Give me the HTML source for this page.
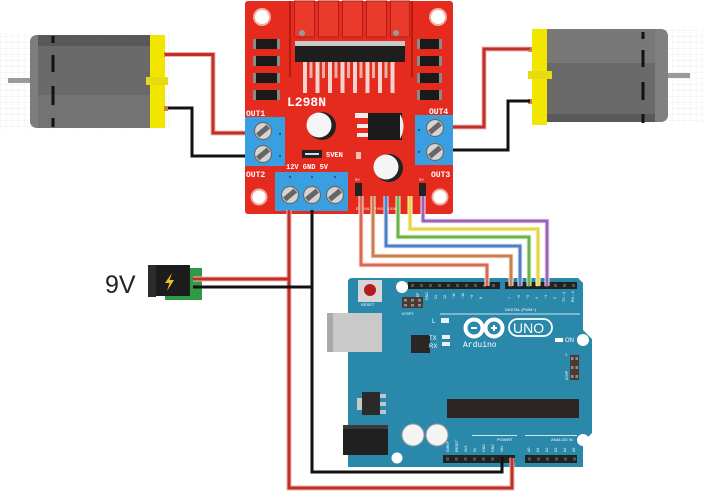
<!DOCTYPE html>
<html><head><meta charset="utf-8"><style>
html,body{margin:0;padding:0;background:#fff;}
svg{display:block;}
text{font-family:"Liberation Sans",sans-serif;}
.m{font-family:"Liberation Mono",monospace;font-weight:bold;}
</style></head><body>
<svg width="703" height="496" viewBox="0 0 703 496" xmlns="http://www.w3.org/2000/svg">
<defs>
<pattern id="g" width="6" height="6" patternUnits="userSpaceOnUse"><path d="M6 0H0V6" fill="none" stroke="#e8e8e8" stroke-width="0.7"/></pattern>
<g id="scr"><circle r="8.5" fill="#d4d4d4" stroke="#6a6a6a" stroke-width="1.2"/><rect x="-7" y="-2.6" width="14" height="5.2" fill="#666" transform="rotate(-40)"/></g>
</defs>
<rect width="703" height="496" fill="#fff"/>
<rect x="0" y="33" width="170" height="97" fill="url(#g)"/>
<rect x="600" y="28" width="103" height="96" fill="url(#g)"/>

<!-- left motor -->
<rect x="8" y="78" width="26" height="5" fill="#9a9a9a"/>
<path d="M38,35 H151 V128 H38 Q30,128 30,120 V43 Q30,35 38,35Z" fill="#6a6a6a"/>
<rect x="38" y="35" width="113" height="11" fill="#585858"/>
<rect x="38" y="95" width="113" height="33" fill="#737373"/>
<path d="M30,43 Q30,35 38,35 V128 Q30,128 30,120Z" fill="#7d7d7d"/>
<g fill="#111"><rect x="51.5" y="36" width="3" height="7"/><rect x="51.5" y="55" width="3" height="17"/><rect x="51.5" y="86" width="3" height="19"/><rect x="51.5" y="118" width="3" height="9"/></g>
<rect x="150" y="35" width="15" height="93" fill="#f2e600"/>
<rect x="146" y="77" width="22" height="8" fill="#e6da10"/>
<rect x="164" y="52" width="4" height="5" fill="#d08040"/><rect x="164" y="106" width="4" height="5" fill="#d08040"/>

<!-- right motor -->
<rect x="664" y="73" width="26" height="5" fill="#9a9a9a"/>
<path d="M547,29 H660 Q668,29 668,37 V114 Q668,122 660,122 H547Z" fill="#6a6a6a"/>
<rect x="547" y="29" width="113" height="34" fill="#787878"/>
<rect x="547" y="114" width="113" height="8" fill="#595959"/>
<path d="M655,29 H660 Q668,29 668,37 V114 Q668,122 660,122 H655Z" fill="#808080"/>
<g fill="#111"><rect x="641.5" y="32" width="3" height="7"/><rect x="641.5" y="50" width="3" height="17"/><rect x="641.5" y="82" width="3" height="18"/><rect x="641.5" y="114" width="3" height="9"/></g>
<rect x="532" y="29" width="15" height="96" fill="#f2e600"/>
<rect x="528" y="71" width="24" height="8" fill="#e6da10"/>
<rect x="528" y="47" width="4" height="5" fill="#d08040"/><rect x="528" y="99" width="4" height="5" fill="#d08040"/>

<!-- motor wires -->
<g fill="none" stroke-linejoin="miter">
<path d="M165,54.5 H213 V133 H255" stroke="#f3b3ad" stroke-width="5"/>
<path d="M165,54.5 H213 V133 H255" stroke="#c0302a" stroke-width="3"/>
<path d="M168,108 H192 V156 H255" stroke="#111" stroke-width="3"/>
<path d="M530,49 H484 V127 H445" stroke="#f3b3ad" stroke-width="5"/>
<path d="M530,49 H484 V127 H445" stroke="#c0302a" stroke-width="3"/>
<path d="M530,101 H508 V150 H445" stroke="#111" stroke-width="3"/>
</g>

<!-- L298N board -->
<rect x="245" y="1" width="208" height="213" rx="3" fill="#e52a1e"/>
<rect x="289" y="1" width="2" height="76" fill="#b81a12"/>
<rect x="411" y="1" width="2" height="76" fill="#b81a12"/>
<g fill="#ea3a2b" stroke="#b0201a" stroke-width="1">
<rect x="294.5" y="1" width="20" height="36"/><rect x="318.5" y="1" width="20" height="36"/><rect x="342.5" y="1" width="20" height="36"/><rect x="366.5" y="1" width="20" height="36"/><rect x="390.5" y="1" width="19" height="36"/>
</g>
<circle cx="302" cy="33" r="3" fill="#9a9a9a"/><circle cx="396" cy="33" r="3" fill="#9a9a9a"/>
<rect x="295" y="41" width="110" height="5" fill="#c8c8c8"/>
<rect x="295" y="46" width="110" height="16" fill="#1e1e1e"/>
<g fill="#f3d3cf">
<rect x="303" y="62" width="4" height="31"/><rect x="315.5" y="62" width="4" height="31"/><rect x="328" y="62" width="4" height="31"/><rect x="340.5" y="62" width="4" height="31"/><rect x="353" y="62" width="4" height="31"/><rect x="365.5" y="62" width="4" height="31"/><rect x="378" y="62" width="4" height="31"/><rect x="390.5" y="62" width="4" height="31"/>
</g>
<g fill="#e9b0a8">
<rect x="309.5" y="62" width="3" height="16"/><rect x="322" y="62" width="3" height="16"/><rect x="334.5" y="62" width="3" height="16"/><rect x="347" y="62" width="3" height="16"/><rect x="359.5" y="62" width="3" height="16"/><rect x="372" y="62" width="3" height="16"/><rect x="384.5" y="62" width="3" height="16"/>
</g>
<!-- smd -->
<g fill="#1a1a1a">
<rect x="253" y="39" width="27" height="10"/><rect x="253" y="56" width="27" height="10"/><rect x="253" y="73" width="27" height="10"/><rect x="253" y="90" width="27" height="10"/>
<rect x="417" y="39" width="25" height="10"/><rect x="417" y="56" width="25" height="10"/><rect x="417" y="73" width="25" height="10"/><rect x="417" y="90" width="25" height="10"/>
</g>
<g fill="#8a8a8a">
<rect x="253" y="39" width="3" height="10"/><rect x="253" y="56" width="3" height="10"/><rect x="253" y="73" width="3" height="10"/><rect x="253" y="90" width="3" height="10"/>
<rect x="277" y="39" width="3" height="10"/><rect x="277" y="56" width="3" height="10"/><rect x="277" y="73" width="3" height="10"/><rect x="277" y="90" width="3" height="10"/>
<rect x="417" y="39" width="3" height="10"/><rect x="417" y="56" width="3" height="10"/><rect x="417" y="73" width="3" height="10"/><rect x="417" y="90" width="3" height="10"/>
<rect x="439" y="39" width="3" height="10"/><rect x="439" y="56" width="3" height="10"/><rect x="439" y="73" width="3" height="10"/><rect x="439" y="90" width="3" height="10"/>
</g>
<g fill="#fff" stroke="#f5aaa2" stroke-width="2">
<circle cx="262" cy="17" r="8"/><circle cx="438" cy="17" r="8"/><circle cx="259" cy="197" r="7.5"/><circle cx="440" cy="197" r="7.5"/>
</g>
<text x="287" y="106" class="m" font-size="13" fill="#fff">L298N</text>
<text x="246" y="116" class="m" font-size="8" fill="#fff">OUT1</text>
<text x="246" y="177" class="m" font-size="8" fill="#fff">OUT2</text>
<text x="429" y="114" class="m" font-size="8" fill="#fff">OUT4</text>
<text x="431" y="177" class="m" font-size="8" fill="#fff">OUT3</text>
<text x="286" y="169" class="m" font-size="7" fill="#fff">12V GND  5V</text>
<text x="326" y="157" class="m" font-size="7" fill="#fff">5VEN</text>
<!-- caps & regulator -->
<circle cx="322" cy="126" r="14" fill="#222"/><circle cx="319" cy="125" r="12.5" fill="#f5f5f5"/>
<rect x="368" y="113" width="34" height="27" fill="#1a1a1a"/>
<path d="M400,114 Q407,126 400,139Z" fill="#eee"/>
<rect x="355" y="113" width="13" height="5" fill="#eee"/><rect x="357" y="124" width="11" height="4" fill="#eee"/><rect x="357" y="133" width="11" height="4" fill="#eee"/>
<circle cx="389" cy="168" r="14" fill="#222"/><circle cx="386" cy="167" r="12.5" fill="#f5f5f5"/>
<rect x="302" y="150" width="20" height="8" fill="#222"/><rect x="305" y="153" width="14" height="2" fill="#ddd"/>
<rect x="356" y="152" width="5" height="7" fill="#f3c0b8"/>
<!-- terminal blocks -->
<rect x="245" y="117" width="40" height="49" fill="#3a9fe0"/>
<rect x="415" y="115" width="38" height="50" fill="#3a9fe0"/>
<rect x="275" y="172" width="73" height="39" fill="#3a9fe0"/>
<use href="#scr" x="263" y="131"/><use href="#scr" x="263" y="154"/>
<use href="#scr" x="435" y="128"/><use href="#scr" x="435" y="152"/>
<use href="#scr" x="290" y="195"/><use href="#scr" x="312" y="195"/><use href="#scr" x="335" y="195"/>
<g fill="#1f5f90"><circle cx="280" cy="134" r="1.2"/><circle cx="280" cy="156" r="1.2"/><circle cx="419" cy="130" r="1.2"/><circle cx="419" cy="152" r="1.2"/><circle cx="290" cy="177" r="1.2"/><circle cx="312" cy="177" r="1.2"/><circle cx="335" cy="177" r="1.2"/></g>
<!-- header -->
<rect x="355" y="183" width="7" height="13" fill="#222"/><rect x="419" y="183" width="7" height="13" fill="#222"/>
<text x="355" y="181" font-size="4" fill="#fff">5V</text><text x="419" y="181" font-size="4" fill="#fff">5V</text>
<text x="356" y="210" font-size="3.6" fill="#fff">ENA IN1 IN2 IN3 IN4 ENB</text>

<!-- Arduino -->
<path d="M352,278 H578 L583,283 V330 L592,339 V433 L583,442 V467 H348 V282 Q348,278 352,278Z" fill="#2a88ab"/>
<rect x="327" y="313" width="55" height="39" fill="#c9c9c9"/>
<rect x="327" y="313" width="6" height="39" fill="#a9a9a9"/>
<rect x="358" y="280" width="24" height="22" fill="#d6d6d6"/>
<circle cx="370" cy="290" r="6" fill="#b31d1d"/>
<text x="361" y="306" font-size="4" fill="#fff">RESET</text>
<circle cx="402" cy="287" r="6" fill="#fff"/>
<rect x="408" y="282" width="92" height="7" fill="#222"/>
<rect x="505" y="282" width="72" height="7" fill="#222"/>
<g fill="#fff" font-size="3.6">
<text x="419" y="302" transform="rotate(-90 419 302)">AREF</text>
<text x="428" y="300" transform="rotate(-90 428 300)">GND</text>
<text x="437" y="299" transform="rotate(-90 437 299)">13</text>
<text x="446" y="299" transform="rotate(-90 446 299)">12</text>
<text x="455" y="299" transform="rotate(-90 455 299)">~11</text>
<text x="464" y="299" transform="rotate(-90 464 299)">~10</text>
<text x="473" y="299" transform="rotate(-90 473 299)">~9</text>
<text x="482" y="299" transform="rotate(-90 482 299)">8</text>
<text x="511" y="299" transform="rotate(-90 511 299)">7</text>
<text x="520" y="299" transform="rotate(-90 520 299)">~6</text>
<text x="529" y="299" transform="rotate(-90 529 299)">~5</text>
<text x="538" y="299" transform="rotate(-90 538 299)">4</text>
<text x="547" y="299" transform="rotate(-90 547 299)">~3</text>
<text x="556" y="299" transform="rotate(-90 556 299)">2</text>
<text x="565" y="302" transform="rotate(-90 565 302)">TX→1</text>
<text x="574" y="302" transform="rotate(-90 574 302)">RX←0</text>
</g>
<rect x="402" y="297" width="21" height="11" fill="#4a3a36"/>
<g fill="#9a8a86"><rect x="404" y="299" width="3" height="2.5"/><rect x="411" y="299" width="3" height="2.5"/><rect x="418" y="299" width="3" height="2.5"/><rect x="404" y="304" width="3" height="2.5"/><rect x="411" y="304" width="3" height="2.5"/><rect x="418" y="304" width="3" height="2.5"/></g>
<text x="402" y="315" font-size="4" fill="#fff">ICSP2</text>
<rect x="440" y="313.5" width="140" height="1" fill="#cfe6ef"/>
<text x="505" y="311" font-size="4" fill="#fff">DIGITAL (PWM~)</text>
<rect x="411" y="335" width="19" height="18" fill="#2a2626"/>
<text x="432" y="323" font-size="6" fill="#fff">L</text>
<rect x="441" y="318" width="8" height="5" fill="#e8f2f6"/>
<text x="429" y="340" font-size="6" fill="#fff">TX</text>
<text x="429" y="348" font-size="6" fill="#fff">RX</text>
<rect x="442" y="335" width="8" height="4" fill="#e8f2f6"/><rect x="442" y="342" width="8" height="4" fill="#e8f2f6"/>
<circle cx="474" cy="328" r="8.5" fill="none" stroke="#fff" stroke-width="4"/>
<circle cx="494" cy="328" r="8.5" fill="none" stroke="#fff" stroke-width="4"/>
<rect x="471" y="327" width="6" height="2" fill="#fff"/>
<rect x="491" y="327" width="6" height="2" fill="#fff"/><rect x="493" y="325" width="2" height="6" fill="#fff"/>
<rect x="509" y="319" width="43" height="17" rx="8.5" fill="none" stroke="#fff" stroke-width="1.8"/>
<text x="513" y="333" font-size="14" fill="#fff">UNO</text>
<text x="463" y="347" font-size="8" fill="#fff" class="m" style="font-weight:normal">Arduino</text>
<rect x="555" y="338" width="8" height="4" fill="#fff"/>
<text x="565" y="342" font-size="6" fill="#fff">ON</text>
<circle cx="583" cy="340" r="6" fill="#fff"/>
<text x="565" y="356" font-size="4" fill="#fff">1</text>
<rect x="570" y="355" width="9" height="25" fill="#4a3a36"/>
<g fill="#9a8a86"><rect x="571" y="357" width="2.5" height="3"/><rect x="575.5" y="357" width="2.5" height="3"/><rect x="571" y="366" width="2.5" height="3"/><rect x="575.5" y="366" width="2.5" height="3"/><rect x="571" y="375" width="2.5" height="3"/><rect x="575.5" y="375" width="2.5" height="3"/></g>
<text x="568" y="380" font-size="4" fill="#fff" transform="rotate(-90 568 380)">ICSP</text>
<rect x="362" y="392" width="18" height="23" fill="#2a2a2a"/>
<rect x="357" y="398" width="5" height="12" fill="#c8c8c8"/>
<g fill="#b8c8cc"><rect x="380" y="394" width="6" height="4"/><rect x="380" y="402" width="6" height="4"/><rect x="380" y="410" width="6" height="4"/></g>
<rect x="447" y="399" width="132" height="19" fill="#2d2424"/>
<rect x="343" y="425" width="45" height="30" fill="#202020"/>
<rect x="343" y="425" width="45" height="4" fill="#3a3a3a"/>
<circle cx="413" cy="435" r="11" fill="#f4f4f4" stroke="#9a9a9a" stroke-width="1"/>
<circle cx="437" cy="435" r="11" fill="#f4f4f4" stroke="#9a9a9a" stroke-width="1"/>
<circle cx="397" cy="458" r="5.5" fill="#fff"/>
<circle cx="583" cy="440" r="6" fill="#fff"/>
<rect x="472" y="435" width="45" height="1" fill="#cfe6ef"/>
<rect x="525" y="435" width="52" height="1" fill="#cfe6ef"/>
<text x="497" y="441" font-size="4" fill="#fff">POWER</text>
<text x="551" y="441" font-size="4" fill="#fff">ANALOG IN</text>
<g fill="#fff" font-size="3.6">
<text x="449" y="452" transform="rotate(-90 449 452)">IOREF</text>
<text x="458" y="452" transform="rotate(-90 458 452)">RESET</text>
<text x="467" y="452" transform="rotate(-90 467 452)">3V3</text>
<text x="476" y="452" transform="rotate(-90 476 452)">5V</text>
<text x="485" y="452" transform="rotate(-90 485 452)">GND</text>
<text x="494" y="452" transform="rotate(-90 494 452)">GND</text>
<text x="503" y="452" transform="rotate(-90 503 452)">VIN</text>
<text x="530" y="452" transform="rotate(-90 530 452)">A0</text>
<text x="539" y="452" transform="rotate(-90 539 452)">A1</text>
<text x="548" y="452" transform="rotate(-90 548 452)">A2</text>
<text x="557" y="452" transform="rotate(-90 557 452)">A3</text>
<text x="566" y="452" transform="rotate(-90 566 452)">A4</text>
<text x="575" y="452" transform="rotate(-90 575 452)">A5</text>
</g>
<rect x="443" y="455" width="72" height="8" fill="#222"/>
<rect x="525" y="455" width="52" height="8" fill="#222"/>
<g fill="#555">
<rect x="446" y="457.5" width="3" height="3"/><rect x="455" y="457.5" width="3" height="3"/><rect x="464" y="457.5" width="3" height="3"/><rect x="473" y="457.5" width="3" height="3"/><rect x="482" y="457.5" width="3" height="3"/><rect x="491" y="457.5" width="3" height="3"/><rect x="500" y="457.5" width="3" height="3"/><rect x="509" y="457.5" width="3" height="3"/>
<rect x="528" y="457.5" width="3" height="3"/><rect x="537" y="457.5" width="3" height="3"/><rect x="546" y="457.5" width="3" height="3"/><rect x="555" y="457.5" width="3" height="3"/><rect x="564" y="457.5" width="3" height="3"/><rect x="573" y="457.5" width="3" height="3"/>
<rect x="411" y="284" width="3" height="3"/><rect x="420" y="284" width="3" height="3"/><rect x="429" y="284" width="3" height="3"/><rect x="438" y="284" width="3" height="3"/><rect x="447" y="284" width="3" height="3"/><rect x="456" y="284" width="3" height="3"/><rect x="465" y="284" width="3" height="3"/><rect x="474" y="284" width="3" height="3"/><rect x="483" y="284" width="3" height="3"/><rect x="492" y="284" width="3" height="3"/>
<rect x="509" y="284" width="3" height="3"/><rect x="518" y="284" width="3" height="3"/><rect x="527" y="284" width="3" height="3"/><rect x="536" y="284" width="3" height="3"/><rect x="545" y="284" width="3" height="3"/><rect x="554" y="284" width="3" height="3"/><rect x="563" y="284" width="3" height="3"/><rect x="572" y="284" width="3" height="3"/>
</g>

<!-- control wires -->
<g fill="none">
<path d="M361,196 V265 H487 V286" stroke="#fbe3df" stroke-width="5"/><path d="M361,196 V265 H487 V286" stroke="#d9684f" stroke-width="3"/>
<path d="M373,196 V256 H511 V286" stroke="#fbe8dc" stroke-width="5"/><path d="M373,196 V256 H511 V286" stroke="#c7804f" stroke-width="3"/>
<path d="M386,196 V246 H520 V286" stroke="#e0eaf7" stroke-width="5"/><path d="M386,196 V246 H520 V286" stroke="#4f7fc4" stroke-width="3"/>
<path d="M398,196 V237 H529 V286" stroke="#e6f3df" stroke-width="5"/><path d="M398,196 V237 H529 V286" stroke="#6db24a" stroke-width="3"/>
<path d="M410,196 V229 H538 V286" stroke="#fbf7d8" stroke-width="5"/><path d="M410,196 V229 H538 V286" stroke="#e6d645" stroke-width="3"/>
<path d="M423,196 V221 H547 V286" stroke="#efe3f5" stroke-width="5"/><path d="M423,196 V221 H547 V286" stroke="#9b62b8" stroke-width="3"/>
</g>

<!-- 9V jack -->
<text x="105" y="293" font-size="25" fill="#222">9V</text>
<rect x="165" y="268" width="37" height="32" fill="#2f9a45"/>
<rect x="148" y="265" width="42" height="31" fill="#1c1c1c"/>
<rect x="148" y="265" width="8" height="32" fill="#2c2c2c"/>
<polygon points="172,273 165,283 169.5,283 167,291 174,280 169.5,280" fill="#f0c020"/>

<!-- power wires -->
<g fill="none">
<path d="M193,279 H289" stroke="#f3b3ad" stroke-width="5"/>
<path d="M289,210 V488 H512 V458" stroke="#f3b3ad" stroke-width="5"/>
<path d="M193,279 H289" stroke="#c0302a" stroke-width="3"/>
<path d="M289,210 V488 H512 V458" stroke="#c0302a" stroke-width="3"/>
<path d="M193,287 H312" stroke="#111" stroke-width="3"/>
<path d="M312,210 V472 H502 V457" stroke="#111" stroke-width="3"/>
</g>
</svg>
</body></html>
